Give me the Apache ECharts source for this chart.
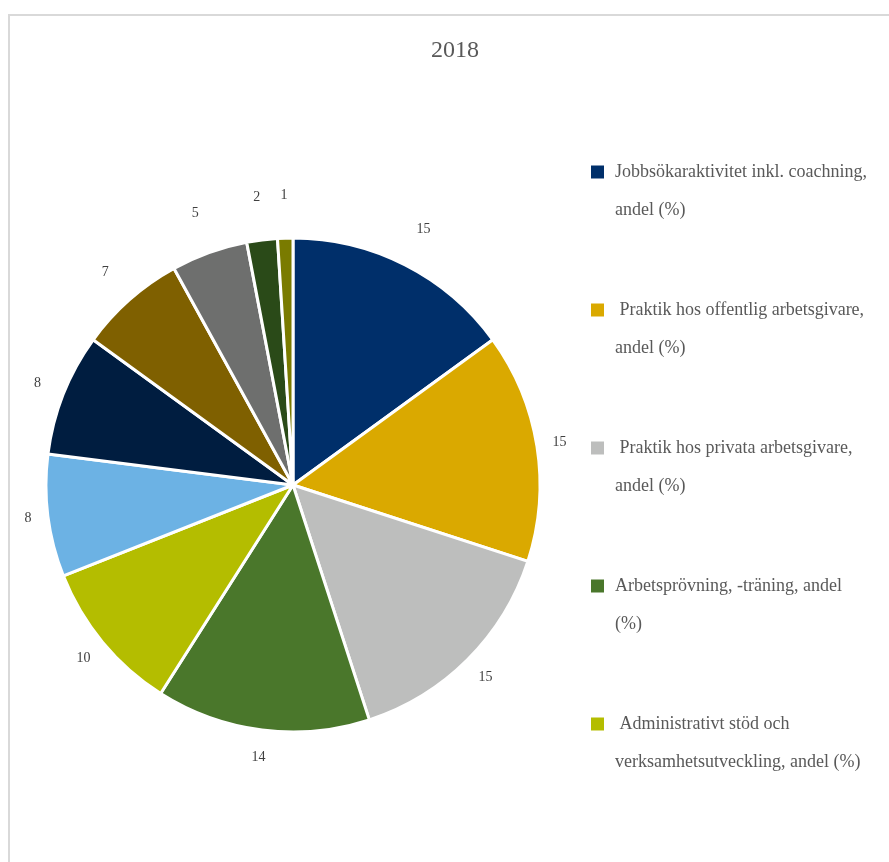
<!DOCTYPE html>
<html>
<head>
<meta charset="utf-8">
<script src="https://cdn.jsdelivr.net/npm/echarts@6/dist/echarts.min.js"></script>
<style>
html,body{margin:0;padding:0;background:#fff;}
#main{width:889px;height:862px;}
</style>
</head>
<body>
<div id="main"></div>
<script>
const titleText = '2018';
const categories = [
  'Jobbsökaraktivitet inkl. coachning,\nandel (%)',
  ' Praktik hos offentlig arbetsgivare,\nandel (%)',
  ' Praktik hos privata arbetsgivare,\nandel (%)',
  'Arbetsprövning, -träning, andel\n(%)',
  ' Administrativt stöd och\nverksamhetsutveckling, andel (%)',
  'Kategori 6', 'Kategori 7', 'Kategori 8', 'Kategori 9', 'Kategori 10', 'Kategori 11'
];
const values = [15, 15, 15, 14, 10, 8, 8, 7, 5, 2, 1];
const colors = ['#002F6A', '#DAA900', '#BDBEBD', '#4A772B', '#B4BD00', '#6CB2E4', '#001D40', '#7F6000', '#6E6F6E', '#2A4A18', '#7A7B00'];
const legendCount = 5;

const chart = echarts.init(document.getElementById('main'));

function labelPos(params) {
  const data = chart.getModel().getSeriesByIndex(0).getData();
  const lay = data.getItemLayout(params.dataIndex);
  const mid = (lay.startAngle + lay.endAngle) / 2;
  const dx = Math.cos(mid), dy = Math.sin(mid);
  const up = -dy;
  const d = lay.r + 19 + (up > 0 ? 24 * up : 9 * (-up));
  return {
    x: lay.cx + dx * d,
    y: lay.cy + dy * d,
    align: 'center',
    verticalAlign: 'middle'
  };
}

function legendFormatter(name) {
  return '{i|}\n' + name.split('\n').map(l => '{i|}{t|' + l + '}').join('\n');
}

chart.setOption({
  animation: false,
  graphic: [{
    type: 'rect',
    shape: { x: 9, y: 15, width: 1000, height: 1000 },
    style: { fill: 'none', stroke: '#d9d9d9', lineWidth: 2 },
    silent: true
  }],
  title: {
    text: titleText,
    left: 450,
    top: 34,
    textAlign: 'center',
    textStyle: { fontFamily: 'Liberation Serif', fontSize: 24, fontWeight: 'normal', color: '#595959' }
  },
  legend: {
    orient: 'vertical',
    left: 589,
    top: 115,
    padding: 0,
    data: categories.slice(0, legendCount),
    icon: 'rect',
    itemWidth: 15,
    itemHeight: 15,
    itemGap: 24,
    formatter: legendFormatter,
    textStyle: {
      fontFamily: 'Liberation Serif',
      fontSize: 18,
      color: '#595959',
      lineHeight: 38,
      rich: {
        i: { width: 5, lineHeight: 38, fontSize: 18 },
        t: { fontFamily: 'Liberation Serif', fontSize: 18, color: '#595959', lineHeight: 38 }
      }
    }
  },
  series: [{
    type: 'pie',
    center: [293, 485],
    radius: 247,
    startAngle: 90,
    clockwise: true,
    avoidLabelOverlap: false,
    itemStyle: { borderColor: '#fff', borderWidth: 3 },
    label: {
      show: true,
      position: 'outside',
      formatter: '{c}',
      fontFamily: 'Liberation Serif',
      fontSize: 14,
      color: '#404040'
    },
    labelLine: { show: false },
    labelLayout: labelPos,
    emphasis: { disabled: true },
    data: categories.map((n, i) => ({ name: n, value: values[i], itemStyle: { color: colors[i] } }))
  }]
});
</script>
</body>
</html>
